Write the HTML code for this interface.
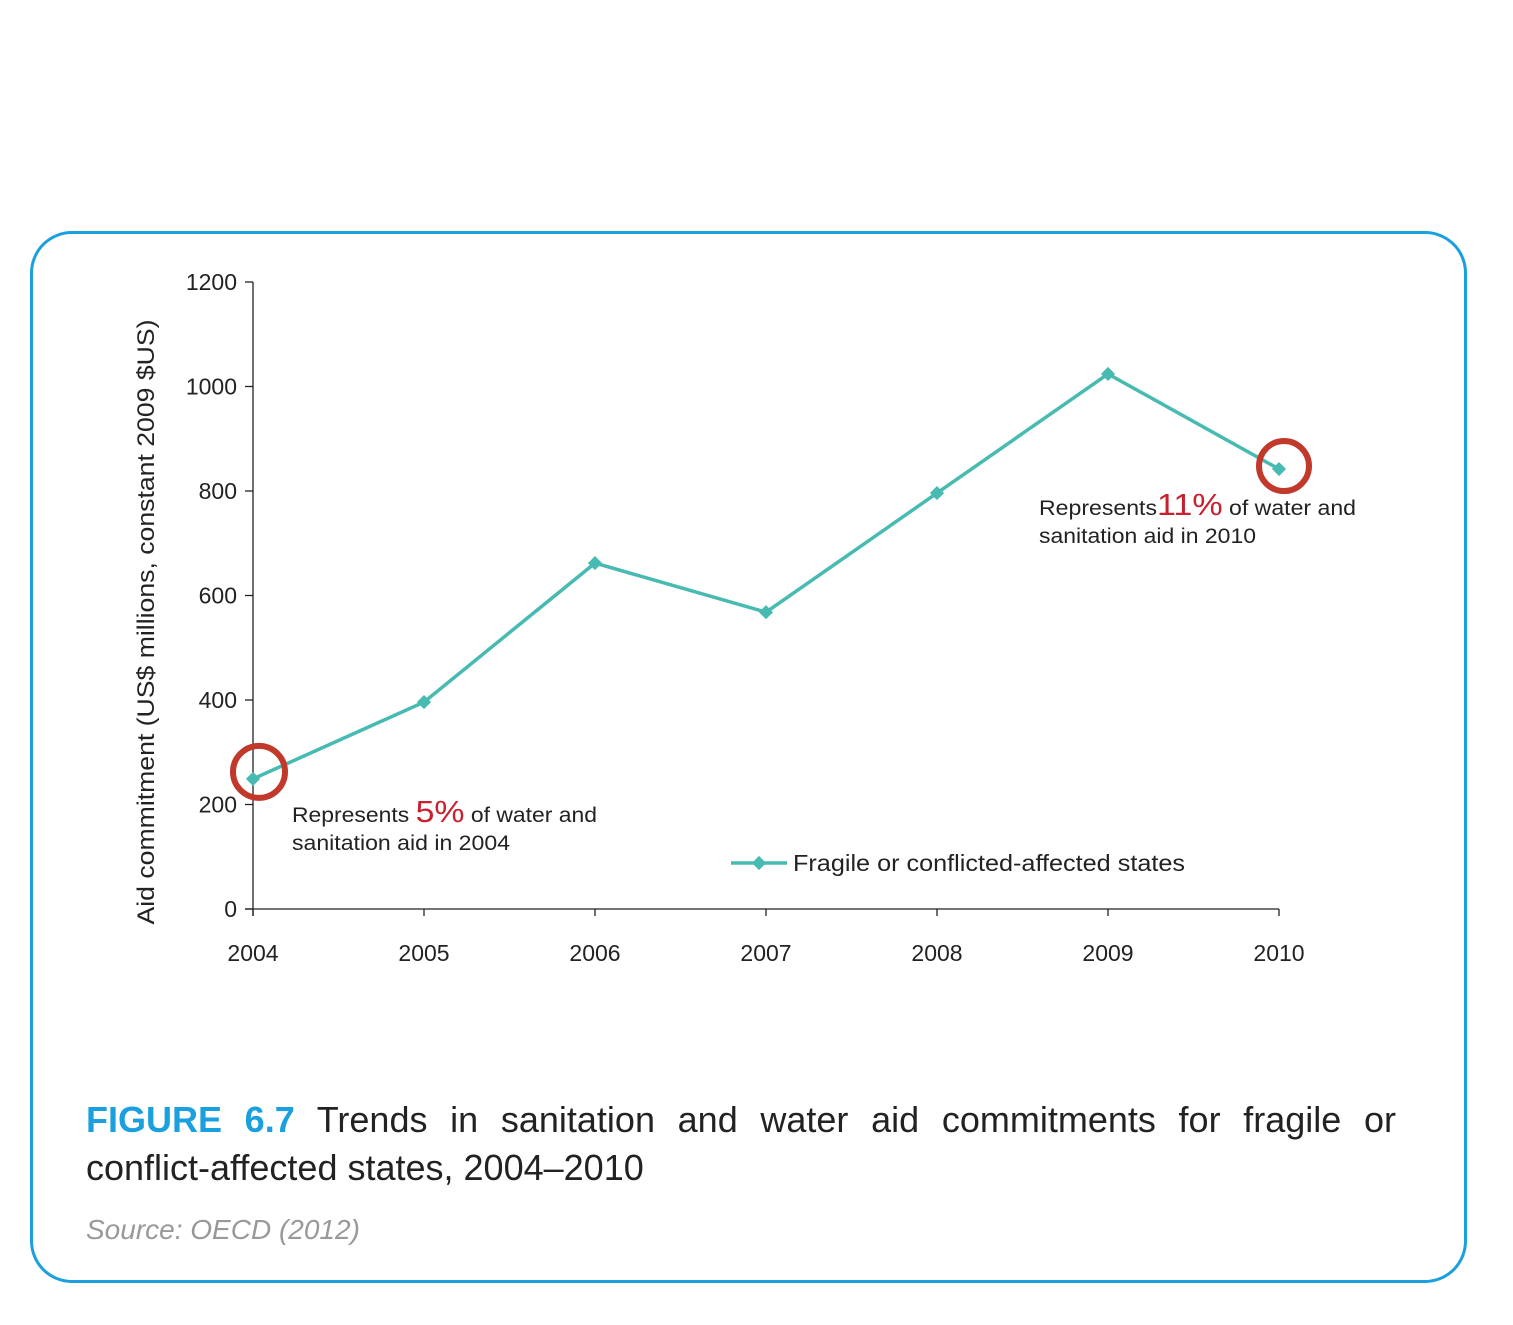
<!DOCTYPE html>
<html><head><meta charset="utf-8"><style>
body{margin:0;background:#fff;width:1513px;height:1325px;overflow:hidden;font-family:"Liberation Sans",sans-serif;}
#box{position:absolute;left:30px;top:231px;width:1431px;height:1046px;border:3px solid #1a9fdf;border-radius:42px;}
.cap{position:absolute;left:86px;top:1096px;width:1310px;font-size:36px;line-height:48px;color:#222;text-align:justify;text-align-last:left}
.src{position:absolute;left:86px;top:1214px;font-size:28px;font-style:italic;color:#999}
</style></head><body>
<div id="box"></div>
<svg id="chart" width="1513" height="1325" style="position:absolute;left:0;top:0" font-family="Liberation Sans, sans-serif"></svg>
<div class="cap"><b style="color:#1a9fdf">FIGURE 6.7</b> Trends in sanitation and water aid commitments for fragile or <span style="white-space:nowrap">conflict-affected</span> states, 2004–2010</div>
<div class="src">Source: OECD (2012)</div>
<script>
const years=["2004","2005","2006","2007","2008","2009","2010"];
const values=[249,396,662,568,796,1024,842];
const yTicks=[0,200,400,600,800,1000,1200];
const NS="http://www.w3.org/2000/svg";
const svg=document.getElementById('chart');
const x0=253,dx=171,yb=909,ys=627/1200;
const X=i=>x0+i*dx, Y=v=>yb-v*ys;
function mk(t,a,p){const e=document.createElementNS(NS,t);for(const k in a)e.setAttribute(k,a[k]);(p||svg).appendChild(e);return e;}
const ax=mk('line',{x1:x0,y1:Y(1200),x2:x0,y2:yb+7,stroke:'#222','stroke-width':1.3});


const axx=mk('line',{x1:x0-8,y1:yb,x2:X(6),y2:yb,stroke:'#222','stroke-width':1.3});


yTicks.forEach(v=>{
 mk('line',{x1:x0-8,y1:Y(v),x2:x0,y2:Y(v),stroke:'#222','stroke-width':1.3});
 const t=mk('text',{x:237,y:Y(v)+8,'text-anchor':'end','font-size':23,fill:'#222'});t.textContent=v;
 
 
});
years.forEach((y,i)=>{
 mk('line',{x1:X(i),y1:yb,x2:X(i),y2:yb+7,stroke:'#222','stroke-width':1.3});
 const t=mk('text',{x:X(i),y:961,'text-anchor':'middle','font-size':23,fill:'#222'});t.textContent=y;
 
 
});
const yt=mk('text',{x:0,y:0,transform:'translate(154,622) rotate(-90)','text-anchor':'middle','font-size':24,fill:'#222',textLength:605,lengthAdjust:'spacingAndGlyphs'});
yt.textContent='Aid commitment (US$ millions, constant 2009 $US)';


const line=mk('polyline',{points:values.map((v,i)=>X(i)+','+Y(v)).join(' '),fill:'none',stroke:'#47bbb2','stroke-width':3.5});


values.forEach((v,i)=>{
 const d=mk('rect',{x:X(i)-5,y:Y(v)-5,width:10,height:10,fill:'#47bbb2',transform:`rotate(45 ${X(i)} ${Y(v)})`});
 
 
});
const c1=mk('circle',{cx:X(0)+6,cy:Y(values[0])-7,r:26,fill:'none',stroke:'#c0392b','stroke-width':6});


const c2=mk('circle',{cx:X(6)+5,cy:Y(values[6])-3,r:25,fill:'none',stroke:'#c0392b','stroke-width':6});


function note(x,y,pct,gap,l2,name,w1,w2){
 const t=mk('text',{x:x,y:y,'font-size':21,fill:'#222',textLength:w1,lengthAdjust:'spacingAndGlyphs'});
 t.innerHTML=`Represents${gap}<tspan fill="#c8202f" font-size="31">${pct}</tspan> of water and`;
 
 
 const t2=mk('text',{x:x,y:y+28,'font-size':21,fill:'#222',textLength:w2,lengthAdjust:'spacingAndGlyphs'});t2.textContent=l2;
}
note(292,822,'5%',' ','sanitation aid in 2004','annotation-2004',305,218);
note(1039,515,'11%','','sanitation aid in 2010','annotation-2010',317,217);
const lg=mk('line',{x1:731,y1:863,x2:787,y2:863,stroke:'#47bbb2','stroke-width':3.5});


mk('rect',{x:754,y:858,width:10,height:10,fill:'#47bbb2',transform:'rotate(45 759 863)'});
const lt=mk('text',{x:793,y:871,'font-size':23,fill:'#222',textLength:392,lengthAdjust:'spacingAndGlyphs'});lt.textContent='Fragile or conflicted-affected states';


</script>
</body></html>
